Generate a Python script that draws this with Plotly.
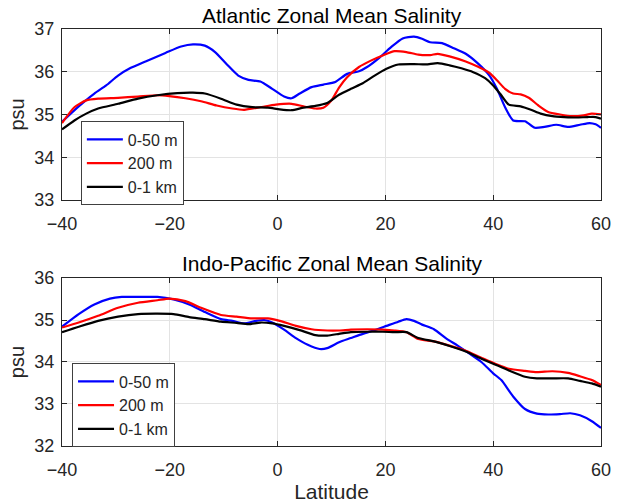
import plotly.graph_objects as go

# Atlantic zonal mean salinity (psu) by latitude
atl_lat_50 = [-40, -36.9, -34.0, -31.8, -29.6, -27.4, -24.5, -20.8, -17.9, -15.7, -13.5, -11.6, -9.4, -7.3, -5.4, -3.2, -1.0, 1.2, 2.6, 4.1, 6.3, 8.5, 10.7, 12.9, 15.1, 16.6, 18.8, 21.0, 23.2, 25.3, 26.8, 28.3, 30.5, 32.7, 34.9, 37.1, 39.3, 40.7, 42.2, 43.7, 45.9, 47.7, 49.5, 51.7, 53.9, 56.1, 57.9, 59.0, 60]
atl_sal_50 = [34.83, 35.19, 35.49, 35.68, 35.91, 36.08, 36.24, 36.44, 36.59, 36.64, 36.61, 36.46, 36.17, 35.91, 35.81, 35.77, 35.60, 35.42, 35.38, 35.49, 35.64, 35.70, 35.76, 35.95, 36.01, 36.11, 36.32, 36.57, 36.78, 36.82, 36.77, 36.69, 36.67, 36.55, 36.42, 36.20, 35.91, 35.60, 35.17, 34.86, 34.84, 34.69, 34.71, 34.76, 34.71, 34.76, 34.80, 34.77, 34.69]

atl_lat_200 = [-40, -37.7, -35.5, -33.3, -29.6, -25.9, -22.3, -20.1, -17.1, -14.2, -11.3, -8.4, -6.2, -3.2, -0.3, 2.6, 4.8, 7.0, 8.5, 10.0, 11.4, 12.9, 15.1, 17.3, 19.5, 21.7, 23.9, 26.1, 28.3, 29.7, 31.9, 34.9, 37.1, 39.3, 40.7, 42.2, 43.7, 45.1, 46.6, 48.4, 50.2, 52.4, 54.6, 56.8, 58.3, 60]
atl_sal_200 = [34.80, 35.17, 35.33, 35.37, 35.39, 35.42, 35.45, 35.43, 35.38, 35.31, 35.21, 35.14, 35.11, 35.17, 35.23, 35.25, 35.19, 35.14, 35.16, 35.33, 35.63, 35.87, 36.11, 36.26, 36.38, 36.48, 36.46, 36.40, 36.39, 36.42, 36.36, 36.24, 36.12, 35.97, 35.80, 35.60, 35.49, 35.47, 35.39, 35.21, 35.06, 35.00, 34.96, 34.98, 35.02, 35.00]

atl_lat_1k = [-40, -37.7, -35.5, -33.3, -29.6, -25.9, -22.3, -18.6, -15.7, -13.5, -10.5, -7.6, -4.7, -1.8, 0.4, 2.6, 4.8, 7.0, 9.2, 11.4, 13.6, 15.8, 18.0, 20.2, 22.4, 25.3, 27.5, 29.7, 31.9, 34.1, 36.3, 38.5, 40.0, 41.5, 42.9, 45.1, 47.0, 48.8, 51.0, 53.2, 55.4, 57.5, 59.0, 60]
atl_sal_1k = [34.65, 34.86, 35.02, 35.14, 35.25, 35.37, 35.45, 35.50, 35.51, 35.49, 35.37, 35.23, 35.17, 35.16, 35.12, 35.10, 35.16, 35.20, 35.27, 35.46, 35.60, 35.73, 35.91, 36.07, 36.17, 36.18, 36.17, 36.20, 36.15, 36.08, 35.99, 35.85, 35.68, 35.45, 35.23, 35.19, 35.11, 35.02, 34.96, 34.94, 34.93, 34.94, 34.94, 34.90]

# Indo-Pacific zonal mean salinity (psu) by latitude
ip_lat_50 = [-40, -36.9, -34.0, -31.1, -28.9, -25.9, -22.3, -19.3, -16.4, -13.5, -10.5, -8.4, -6.2, -4.0, -2.5, -1.0, 1.2, 3.4, 5.6, 7.8, 9.2, 11.4, 13.6, 15.8, 18.0, 20.2, 22.4, 23.9, 25.3, 26.8, 29.0, 31.2, 33.4, 35.6, 37.8, 40.0, 41.5, 43.7, 45.9, 48.1, 50.2, 52.4, 54.3, 56.1, 58.3, 60]
ip_sal_50 = [34.84, 35.14, 35.37, 35.51, 35.55, 35.55, 35.55, 35.49, 35.37, 35.19, 35.02, 34.98, 34.92, 34.98, 35.00, 34.94, 34.77, 34.57, 34.41, 34.31, 34.33, 34.47, 34.57, 34.67, 34.76, 34.86, 34.96, 35.02, 34.98, 34.89, 34.78, 34.57, 34.39, 34.20, 34.00, 33.73, 33.57, 33.18, 32.88, 32.77, 32.75, 32.76, 32.78, 32.73, 32.59, 32.43]

ip_lat_200 = [-40, -36.9, -33.3, -29.6, -25.9, -22.3, -20.1, -17.1, -14.2, -10.5, -7.6, -4.7, -1.8, 0.4, 3.4, 6.3, 9.2, 11.4, 13.6, 16.6, 19.5, 21.7, 23.9, 26.1, 29.0, 31.9, 34.9, 37.8, 40.0, 42.9, 45.9, 48.1, 51.0, 53.9, 56.1, 58.3, 60]
ip_sal_200 = [34.82, 34.94, 35.10, 35.29, 35.41, 35.47, 35.51, 35.45, 35.29, 35.12, 35.08, 35.04, 35.04, 34.98, 34.86, 34.78, 34.75, 34.75, 34.77, 34.78, 34.77, 34.75, 34.71, 34.55, 34.49, 34.39, 34.27, 34.10, 33.98, 33.84, 33.79, 33.76, 33.78, 33.74, 33.66, 33.57, 33.45]

ip_lat_1k = [-40, -36.9, -33.3, -29.6, -25.9, -22.3, -19.3, -16.4, -13.5, -10.5, -7.6, -5.4, -3.2, -1.0, 1.2, 4.1, 7.0, 9.2, 11.4, 13.6, 16.6, 19.5, 21.7, 23.9, 26.1, 29.0, 31.9, 34.9, 37.8, 40.0, 42.9, 45.9, 48.1, 51.0, 53.9, 56.1, 58.3, 60]
ip_sal_1k = [34.71, 34.84, 34.98, 35.08, 35.14, 35.15, 35.14, 35.07, 35.02, 34.96, 34.93, 34.90, 34.94, 34.92, 34.86, 34.76, 34.64, 34.63, 34.67, 34.71, 34.72, 34.72, 34.71, 34.71, 34.57, 34.49, 34.38, 34.25, 34.08, 33.96, 33.80, 33.65, 33.61, 33.61, 33.61, 33.55, 33.49, 33.41]

series_names = ["0-50 m", "200 m", "0-1 km"]
series_colors = ["#0000ff", "#ff0000", "#000000"]
x_ticks = [-40, -20, 0, 20, 40, 60]

FONT = "Liberation Sans, Arial, sans-serif"
TXT = "#262626"

fig = go.Figure()

panels = [
    ("x", "y", "legend", [(atl_lat_50, atl_sal_50), (atl_lat_200, atl_sal_200), (atl_lat_1k, atl_sal_1k)]),
    ("x2", "y2", "legend2", [(ip_lat_50, ip_sal_50), (ip_lat_200, ip_sal_200), (ip_lat_1k, ip_sal_1k)]),
]
for xa, ya, leg, data in panels:
    for (lat, sal), name, col in zip(data, series_names, series_colors):
        fig.add_trace(go.Scatter(
            x=lat, y=sal, mode="lines", name=name, xaxis=xa, yaxis=ya, legend=leg,
            line=dict(color=col, width=2.2, shape="spline", smoothing=0.6),
        ))

axis_common = dict(
    showline=True, linecolor=TXT, linewidth=1, mirror="ticks",
    ticks="inside", ticklen=5, tickcolor=TXT, tickwidth=1,
    showgrid=True, gridcolor="#e3e3e3", gridwidth=1, zeroline=False,
    automargin=False,
    tickfont=dict(family=FONT, size=18, color=TXT),
)
x_common = dict(axis_common, ticklabelstandoff=7)
y_common = dict(axis_common, ticklabelstandoff=3)

legend_common = dict(
    xanchor="left", yanchor="top", bgcolor="white",
    bordercolor="#404040", borderwidth=1,
    font=dict(family=FONT, size=16, color=TXT),
    tracegroupgap=0, itemwidth=36,
)

fig.update_layout(
    width=618, height=504,
    margin=dict(l=62, r=17, t=0, b=0),
    paper_bgcolor="white", plot_bgcolor="white",
    font=dict(family=FONT, color=TXT),
    xaxis=dict(domain=[0, 1], anchor="y", range=[-40, 60], tickvals=x_ticks, **x_common),
    yaxis=dict(domain=[0.6032, 0.9425], anchor="x", range=[33, 37], tickvals=[33, 34, 35, 36, 37],
               title=dict(text="psu", font=dict(family=FONT, size=20, color=TXT), standoff=4), **y_common),
    xaxis2=dict(domain=[0, 1], anchor="y2", range=[-40, 60], tickvals=x_ticks,
                title=dict(text="Latitude", font=dict(family=FONT, size=21, color=TXT), standoff=5), **x_common),
    yaxis2=dict(domain=[0.1151, 0.4484], anchor="x2", range=[32, 36], tickvals=[32, 33, 34, 35, 36],
                title=dict(text="psu", font=dict(family=FONT, size=20, color=TXT), standoff=4), **y_common),
    legend=dict(x=0.035, y=0.759, **legend_common),
    legend2=dict(x=0.0186, y=0.279, **legend_common),
    annotations=[
        dict(text="Atlantic Zonal Mean Salinity", xref="paper", yref="paper", x=0.5, y=0.9425,
             xanchor="center", yanchor="bottom", yshift=0, showarrow=False,
             font=dict(family=FONT, size=21, color="#000000")),
        dict(text="Indo-Pacific Zonal Mean Salinity", xref="paper", yref="paper", x=0.5, y=0.4484,
             xanchor="center", yanchor="bottom", yshift=1, showarrow=False,
             font=dict(family=FONT, size=21, color="#000000")),
    ],
)

fig.write_html("out.html")
